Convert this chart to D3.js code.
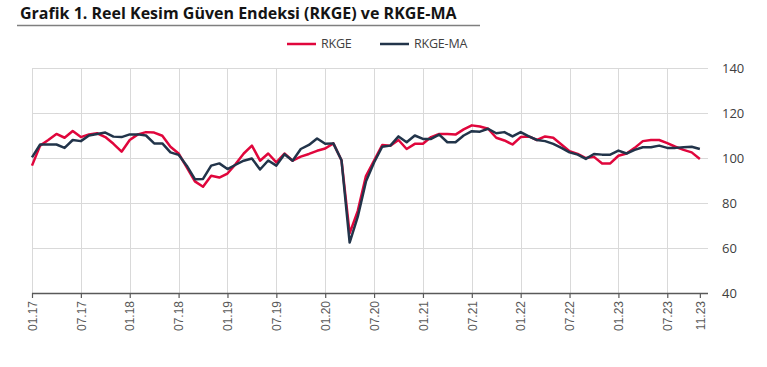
<!DOCTYPE html>
<html>
<head>
<meta charset="utf-8">
<script src="https://cdn.jsdelivr.net/npm/d3@7"></script>
<style>
  html, body { margin: 0; padding: 0; background: #fff; }
  svg { display: block; }
</style>
</head>
<body>
<svg id="chart" width="767" height="367"></svg>
<script>
// ---- Data ----
const titleText = "Grafik 1. Reel Kesim Güven Endeksi (RKGE) ve RKGE-MA";
const seriesNames = ["RKGE", "RKGE-MA"];
const seriesColors = ["#E0063C", "#22344A"];

// Monthly categories 01.17 .. 11.23
const categories = d3.timeMonth.range(new Date(2017, 0, 1), new Date(2023, 11, 1))
  .map(d3.timeFormat("%m.%y"));

const rkge = [
  96.6, 105.5, 108, 110.7, 109, 112, 109.3, 110.5, 111, 109.3, 106.3, 102.8,
  108, 110.5, 111.5, 111.3, 109.9, 105, 102, 95.8, 89.6, 87.2, 92.1, 91.3,
  93.1, 97.3, 102, 105.5, 98.8, 102, 98.1, 102, 98.8, 100.6, 101.8, 103.2,
  104.2, 106.5, 99, 66.5, 76.5, 92, 98.8, 105.8, 105.5, 108, 104, 106.3,
  106.3, 109.3, 110.7, 110.7, 110.4, 112.7, 114.5, 114, 113, 109, 107.8, 106,
  109.3, 109.6, 108, 109.6, 109, 106, 103, 101.8, 100, 100.5, 97.6, 97.6,
  101, 102, 104.5, 107.5, 108, 108, 106.6, 105, 103.6, 102.5, 99.6
];
const rkgeMA = [
  100.3, 106, 106, 106, 104.5, 108, 107.5, 110, 110.7, 111.3, 109.5, 109.3,
  110.5, 110.5, 110, 106.5, 106.5, 102.5, 101.4, 96.6, 90.6, 90.7, 96.6, 97.6,
  95.1, 97, 98.8, 99.8, 94.9, 98.9, 96.6, 101.7, 98.8, 104, 105.8, 108.7,
  106.3, 106.5, 99, 62.4, 73.9, 89.5, 98, 105, 105.5, 109.6, 107, 110,
  108.5, 108.5, 110.4, 107, 107, 110, 111.9, 111.7, 113, 111, 111.5, 109.6,
  111.5, 109.6, 108, 107.5, 106.3, 104.5, 102.5, 101.5, 99.6, 101.8, 101.5, 101.5,
  103.3, 102, 103.6, 104.8, 104.8, 105.5, 104.5, 104.5, 104.8, 105, 104
];
const yTicks = [40, 60, 80, 100, 120, 140];
const xLabelIdx = [0, 6, 12, 18, 24, 30, 36, 42, 48, 54, 60, 66, 72, 78, 82];
const xGridIdx = [0, 6, 12, 18, 24, 30, 36, 42, 48, 54, 60, 66, 72, 78];

(function draw() {
  const svg = d3.select("#chart");
  const pLeft = 32, pRight = 708, pTop = 68, pBottom = 293;

  const x = d3.scaleLinear().domain([0, categories.length]).range([pLeft, pRight]);
  const y = d3.scaleLinear().domain([40, 140]).range([pBottom, pTop]);

  // Title
  svg.append("text")
    .attr("x", 20).attr("y", 19)
    .attr("font-family", "'Open Sans', 'Noto Sans', sans-serif")
    .attr("font-weight", "bold")
    .attr("font-size", 16)
    .attr("fill", "#141414")
    .text(titleText);
  svg.append("line")
    .attr("x1", 17).attr("x2", 480).attr("y1", 25.5).attr("y2", 25.5)
    .attr("stroke", "#7f7f7f").attr("stroke-width", 1.5);

  // Grid
  const g = svg.append("g");
  g.selectAll("line.hgrid").data(yTicks.filter(v => v > 40)).join("line")
    .attr("class", "hgrid")
    .attr("x1", pLeft).attr("x2", pRight)
    .attr("y1", d => y(d) + 0.5).attr("y2", d => y(d) + 0.5)
    .attr("stroke", "#d9d9d9").attr("stroke-width", 1);
  g.selectAll("line.vgrid").data(xGridIdx).join("line")
    .attr("class", "vgrid")
    .attr("x1", d => Math.round(x(d)) + 0.5).attr("x2", d => Math.round(x(d)) + 0.5)
    .attr("y1", pTop).attr("y2", pBottom)
    .attr("stroke", "#d9d9d9").attr("stroke-width", 1);

  // Y axis (right)
  const yAxis = d3.axisRight(y).tickValues(yTicks).tickSize(0).tickPadding(0);
  const ya = svg.append("g").attr("transform", "translate(722,0)").call(yAxis);
  ya.select(".domain").remove();
  ya.selectAll("text")
    .attr("font-family", "'Open Sans', 'Noto Sans', sans-serif")
    .attr("font-size", 13)
    .attr("fill", "#404040")
    .attr("x", 0);

  // X axis
  const xAxis = d3.axisBottom(x).tickValues(xLabelIdx).tickSize(5).tickSizeOuter(0)
    .tickFormat(i => categories[i]);
  const xa = svg.append("g").attr("transform", `translate(0,${pBottom})`).call(xAxis);
  xa.select(".domain").attr("stroke", "#595959").attr("stroke-width", 1.5)
    .attr("d", `M${pLeft},0.5H${pRight}`);
  xa.selectAll(".tick line").attr("stroke", "#595959").attr("stroke-width", 1.2);
  xa.selectAll(".tick text")
    .attr("font-family", "'Liberation Sans', Arial, sans-serif")
    .attr("font-size", 12)
    .attr("fill", "#595959")
    .attr("transform", "rotate(-90)")
    .attr("text-anchor", "end")
    .attr("x", -8)
    .attr("y", 0)
    .attr("dy", "0.35em");

  // Lines
  const line = d3.line().x((d, i) => x(i)).y(d => y(d));
  [rkge, rkgeMA].forEach((s, k) => {
    svg.append("path").datum(s)
      .attr("d", line).attr("fill", "none")
      .attr("stroke", seriesColors[k]).attr("stroke-width", 2.5)
      .attr("stroke-linejoin", "round");
  });

  // Legend
  const legendX = [287, 380];
  const leg = svg.append("g");
  seriesNames.forEach((name, k) => {
    leg.append("line")
      .attr("x1", legendX[k]).attr("x2", legendX[k] + 29)
      .attr("y1", 44).attr("y2", 44)
      .attr("stroke", seriesColors[k]).attr("stroke-width", 2.5);
    leg.append("text")
      .attr("x", legendX[k] + 34).attr("y", 44).attr("dy", "0.35em")
      .attr("font-family", "'Open Sans', 'Noto Sans', sans-serif")
      .attr("font-size", 12.5)
      .attr("fill", "#404040")
      .attr("letter-spacing", "-0.2")
      .text(name);
  });
})();
</script>
</body>
</html>
